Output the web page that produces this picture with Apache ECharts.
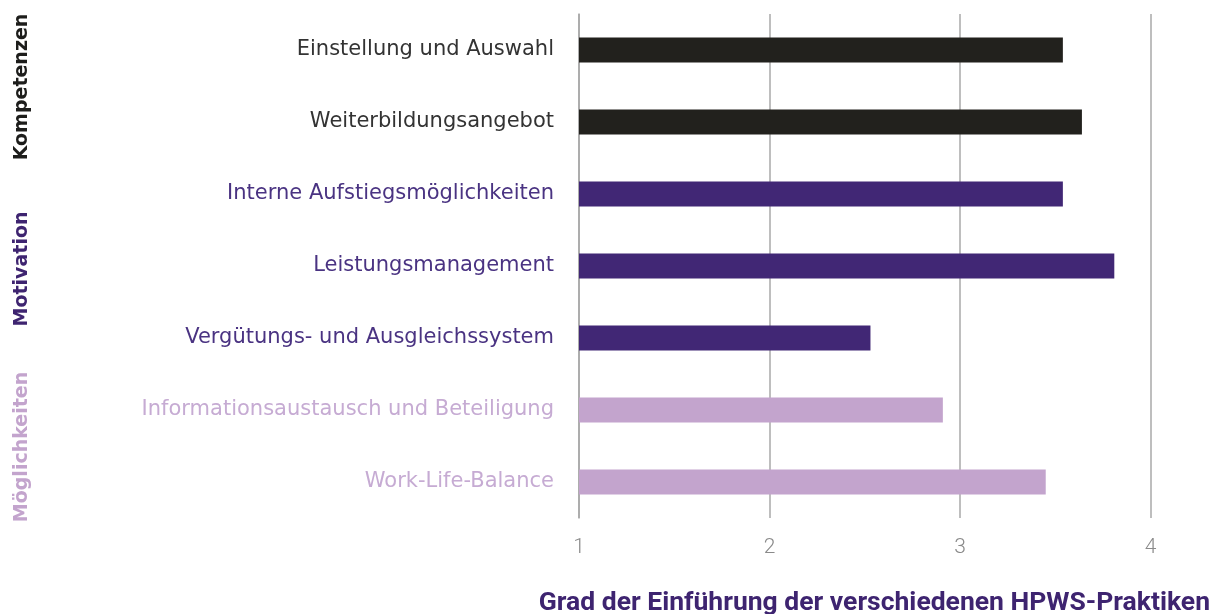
<!DOCTYPE html>
<html>
<head>
<meta charset="utf-8">
<script src="https://cdn.jsdelivr.net/npm/echarts@6/dist/echarts.min.js"></script>
<style>
  html, body { margin: 0; padding: 0; background: #fff; }
  #chart { width: 1216px; height: 614px; }
</style>
</head>
<body>
<div id="chart"></div>
<script>
const practices = [
    'Einstellung und Auswahl',
    'Weiterbildungsangebot',
    'Interne Aufstiegsmöglichkeiten',
    'Leistungsmanagement',
    'Vergütungs- und Ausgleichssystem',
    'Informationsaustausch und Beteiligung',
    'Work-Life-Balance'
];
const groupOf = [0, 0, 1, 1, 1, 2, 2];
const values = [3.54, 3.64, 3.54, 3.81, 2.53, 2.91, 3.45];
const groups = ['Kompetenzen', 'Motivation', 'Möglichkeiten'];
const xTicks = [1, 2, 3, 4];
const axisTitle = 'Grad der Einführung der verschiedenen HPWS-Praktiken';

const barColors = ['#22211d', '#412775', '#c3a4cd'];
const labelColors = ['#333333', '#4a3382', '#c6abd3'];
const groupColors = ['#1d1d1b', '#3e2470', '#c3a4cd'];

const chart = echarts.init(document.getElementById('chart'));

// vertical centres of the rotated group labels
const groupY = [87, 269, 447];

chart.setOption({
    animation: false,
    grid: { left: 579, right: 65.5, top: 14, bottom: 96, outerBoundsMode: 'none', containLabel: false },
    xAxis: {
        type: 'value',
        min: xTicks[0],
        max: xTicks[xTicks.length - 1],
        interval: 1,
        axisLine: { show: false },
        axisTick: { show: false },
        axisLabel: { color: '#8a8a8a', fontSize: 21, margin: 19, fontFamily: 'Roboto', fontWeight: 300 },
        splitLine: { show: true, lineStyle: { color: '#a8a8a8', width: 1.5 } }
    },
    yAxis: {
        type: 'category',
        data: practices,
        inverse: true,
        axisLine: { show: true, lineStyle: { color: '#a8a8a8', width: 1.5 } },
        axisTick: { show: false },
        axisLabel: {
            fontSize: 21,
            margin: 25,
            fontFamily: 'DejaVu Sans',
            color: (value, index) => labelColors[groupOf[index]]
        }
    },
    series: [{
        type: 'bar',
        data: values.map((v, i) => ({ value: v, itemStyle: { color: barColors[groupOf[i]] } })),
        barWidth: 25
    }],
    graphic: groups.map((g, i) => ({
        type: 'text',
        x: 22,
        y: groupY[i],
        rotation: Math.PI / 2,
        style: {
            text: g,
            fill: groupColors[i],
            font: 'bold 19px "DejaVu Sans"',
            align: 'center',
            verticalAlign: 'middle'
        }
    })).concat([{
        type: 'text',
        right: 6,
        top: 590,
        style: {
            text: axisTitle,
            fill: '#3e2470',
            font: 'bold 26.5px Roboto'
        }
    }])
});
</script>
</body>
</html>
